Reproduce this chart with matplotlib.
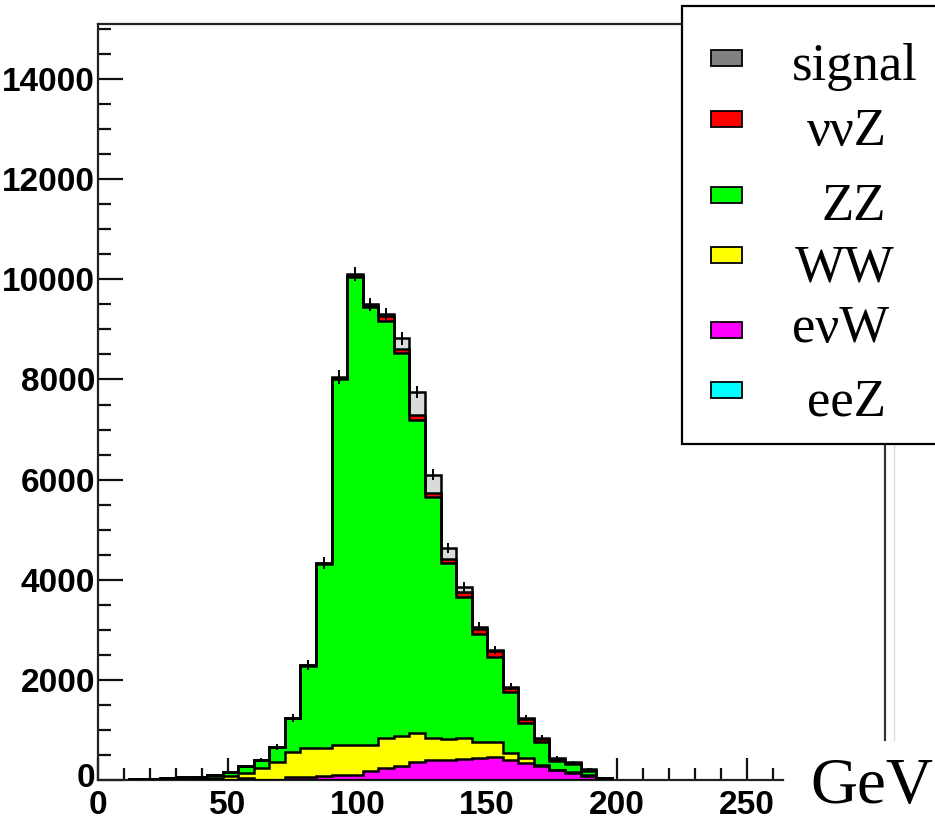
import numpy as np
import matplotlib.pyplot as plt
from matplotlib.patches import Rectangle
from matplotlib.lines import Line2D
from matplotlib.ticker import MultipleLocator, FuncFormatter

# bins of 6 GeV, first edge at 12 GeV
bin_lo = 12
bin_w = 6
n_bins = 31

# events per bin (stack from bottom to top)
eeZ = [0, 0, 0, 0, 0, 0, 0, 0, 0, 0, 0, 0, 0, 0, 5, 5, 5, 5, 5, 5,
       5, 5, 5, 5, 0, 0, 0, 0, 0, 0, 0]
enuW = [0, 0, 0, 0, 0, 0, 0, 30, 0, 0, 50, 60, 80, 100, 95, 165, 225, 265, 355, 385,
        385, 405, 425, 445, 390, 330, 270, 190, 140, 80, 15]
WW = [0, 0, 0, 0, 10, 30, 70, 100, 230, 360, 510, 570, 560, 600, 600, 520, 600, 610, 570, 450,
      420, 420, 320, 300, 140, 100, 30, 10, 20, 20, 5]
ZZ = [20, 25, 40, 50, 50, 60, 80, 140, 170, 300, 670, 1650, 3680, 7310, 9340, 8750, 8330, 7640, 6270, 4820,
      3530, 2830, 2170, 1710, 1230, 710, 460, 180, 150, 80, 10]
nunuZ = [0, 0, 0, 0, 0, 0, 0, 0, 0, 0, 0, 10, 10, 20, 30, 30, 100, 80, 100, 80,
         80, 100, 100, 110, 80, 80, 60, 40, 30, 20, 5]
signal = [0, 0, 0, 0, 0, 0, 0, 0, 0, 0, 10, 10, 10, 20, 30, 30, 40, 220, 440, 360,
          220, 100, 40, 30, 20, 20, 20, 20, 10, 10, 0]
err = [10, 10, 15, 15, 20, 20, 25, 35, 45, 60, 80, 100, 120, 140, 140, 130, 130, 130, 120, 110,
       100, 95, 90, 80, 70, 60, 50, 40, 35, 30, 15]

names = ['signal', 'ννZ', 'ZZ', 'WW', 'eνW', 'eeZ']
colors = ['#dadada', '#ff0000', '#00ff00', '#ffff00', '#ff00ff', '#00ffff']
legend_colors = ['#808080', '#ff0000', '#00ff00', '#ffff00', '#ff00ff', '#00ffff']

edges = bin_lo + bin_w * np.arange(n_bins + 1)
centers = 0.5 * (edges[1:] + edges[:-1])

# cumulative stack, bottom first
layers = [eeZ, enuW, WW, ZZ, nunuZ, signal]
cum = np.cumsum(np.array(layers, dtype=float), axis=0)
stack_colors = colors[::-1]

W, H = 935, 821
fig = plt.figure(figsize=(W / 100, H / 100), dpi=100)
ax = fig.add_axes([98 / W, 41 / H, 685 / W, 756 / H])

# draw the full stack first, then each lower part over it (like THStack)
for i in range(len(layers) - 1, -1, -1):
    ax.stairs(cum[i], edges, baseline=0, fill=True, color=stack_colors[i], zorder=2)
    ax.stairs(cum[i], edges, baseline=0, color='black', lw=1.8, zorder=3)

total = cum[-1]
ax.vlines(centers, total - np.array(err), total + np.array(err), color='black', lw=1.4, zorder=4)

ax.set_xlim(0, 264)
ax.set_ylim(0, 15100)
ax.xaxis.set_major_locator(MultipleLocator(50))
ax.xaxis.set_minor_locator(MultipleLocator(10))
ax.yaxis.set_major_locator(MultipleLocator(2000))
ax.yaxis.set_minor_locator(MultipleLocator(500))
# the y "0" is written by hand below, a bit higher than the x "0"
ax.yaxis.set_major_formatter(FuncFormatter(lambda v, p: '' if v == 0 else '%d' % v))

ax.tick_params(which='both', direction='in', width=1.6, color='#111111')
ax.tick_params(axis='y', which='major', length=18, pad=2)
ax.tick_params(axis='y', which='minor', length=9)
ax.tick_params(axis='x', which='major', length=16, pad=7)
ax.tick_params(axis='x', which='minor', length=9)
ax.tick_params(top=False, right=False)
for lab in ax.get_xticklabels() + ax.get_yticklabels():
    lab.set_fontfamily('Liberation Sans')
    lab.set_fontweight('bold')
    lab.set_fontsize(24)
ax.annotate('0', xy=(0, 0), xytext=(-2, 1), textcoords='offset points', ha='right', va='center',
            family='Liberation Sans', weight='bold', fontsize=24, annotation_clip=False)

ax.spines['right'].set_visible(False)
for s in ['left', 'bottom', 'top']:
    ax.spines[s].set_linewidth(1.6)
    ax.spines[s].set_color('#222222')

# legend box (runs off the right edge)
fig.add_artist(Rectangle((682 / W, (H - 444) / H), 300 / W, 438 / H, transform=fig.transFigure,
                         facecolor='white', edgecolor='black', lw=1.6, zorder=5, clip_on=False))
box_y = [58, 119, 195, 255, 330, 390]
text_x = [792, 807, 822, 795, 792, 807]
text_y = [80, 145, 220, 282, 342, 415]
for nm, c, by, tx, ty in zip(names, legend_colors, box_y, text_x, text_y):
    fig.add_artist(Rectangle((711 / W, (H - by - 8) / H), 31 / W, 16 / H, transform=fig.transFigure,
                             facecolor=c, edgecolor='black', lw=1.3, zorder=6))
    fig.text(tx / W, (H - ty) / H, nm, family='Liberation Serif', fontsize=38,
             va='baseline', ha='left', zorder=7)

# edge of the neighbouring pad
fig.add_artist(Line2D([885 / W, 885 / W], [(H - 740) / H, (H - 444) / H], color='#333333', lw=1.6))
fig.add_artist(Line2D([894 / W, 894 / W], [(H - 740) / H, (H - 444) / H], color='#dddddd', lw=1.0))

fig.text(810 / W, (H - 803) / H, 'GeV', family='Liberation Serif', fontsize=47, va='baseline', ha='left')

fig.savefig('out.png', dpi=100)
